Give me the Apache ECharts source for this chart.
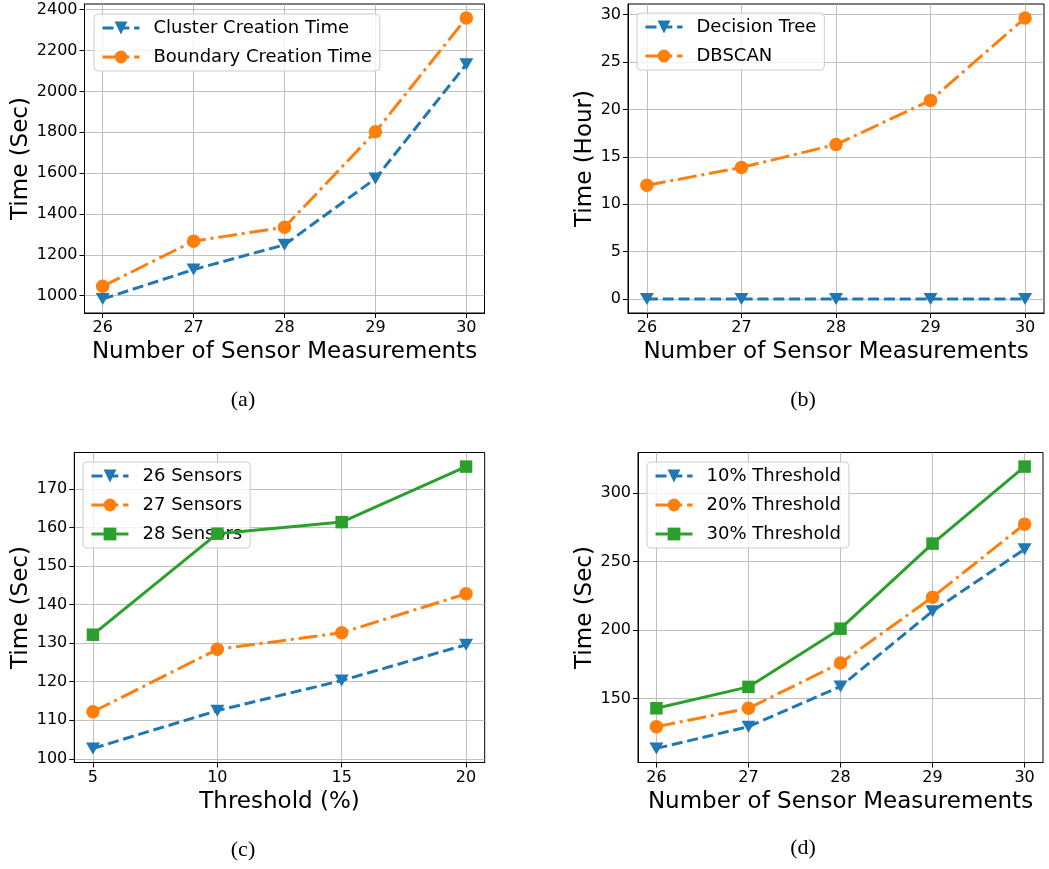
<!DOCTYPE html>
<html>
<head>
<meta charset="utf-8">
<script src="https://cdn.jsdelivr.net/npm/echarts@6/dist/echarts.min.js"></script>
<style>
html,body{margin:0;padding:0;background:#fff;}
#chart{width:1049px;height:869px;}
</style>
</head>
<body>
<div id="chart"></div>
<script>
// ---------- data ----------
const sensorCounts = [26, 27, 28, 29, 30];
const thresholdsPct = [5, 10, 15, 20];

// (a)
const clusterCreationTime = [984, 1128, 1249, 1573, 2133];
const boundaryCreationTime = [1046, 1267, 1335, 1802, 2359];
// (b)
const decisionTreeHours = [0, 0, 0, 0, 0];
const dbscanHours = [12.0, 13.88, 16.3, 20.96, 29.65];
// (c)
const sensors26 = [102.7, 112.5, 120.3, 129.6];
const sensors27 = [112.2, 128.4, 132.7, 142.8];
const sensors28 = [132.2, 158.4, 161.4, 175.8];
// (d)
const threshold10 = [113.6, 129.5, 158.8, 213.8, 259.0];
const threshold20 = [129.5, 142.9, 175.9, 224.0, 277.3];
const threshold30 = [142.9, 158.5, 201.0, 263.1, 319.3];

// tick labels
const xTicksSensors = [26, 27, 28, 29, 30];
const xTicksThreshold = [5, 10, 15, 20];
const yTicksA = [1000, 1200, 1400, 1600, 1800, 2000, 2200, 2400];
const yTicksB = [0, 5, 10, 15, 20, 25, 30];
const yTicksC = [100, 110, 120, 130, 140, 150, 160, 170];
const yTicksD = [150, 200, 250, 300];

// ---------- style ----------
const BLUE = '#1f77b4', ORANGE = '#ff7f0e', GREEN = '#2ca02c';
const FONT = 'DejaVu Sans';
const LW = 3;
const DASHED = [11, 4.8];
const DASHDOT = [19, 4.8, 3, 4.8];

function range(vals) {
  let lo = Math.min(...vals), hi = Math.max(...vals);
  const m = (hi - lo) * 0.05;
  return [lo - m, hi + m];
}

const grids = [
  {left: 84.5, top: 4, width: 400, height: 309},
  {left: 628, top: 4, width: 416, height: 309},
  {left: 74.3, top: 452.5, width: 410.4, height: 310},
  {left: 638, top: 452.5, width: 405, height: 310}
];
const yNameGaps = [46, 31, 41, 41];

const panels = [
  {x: sensorCounts, xticks: xTicksSensors, yticks: yTicksA, xname: 'Number of Sensor Measurements', yname: 'Time (Sec)',
   series: [
     {name: 'Cluster Creation Time', data: clusterCreationTime, color: BLUE, dash: DASHED, sym: 'tri'},
     {name: 'Boundary Creation Time', data: boundaryCreationTime, color: ORANGE, dash: DASHDOT, sym: 'circle'}
   ], legend: {left: 94, top: 14}},
  {x: sensorCounts, xticks: xTicksSensors, yticks: yTicksB, xname: 'Number of Sensor Measurements', yname: 'Time (Hour)',
   series: [
     {name: 'Decision Tree', data: decisionTreeHours, color: BLUE, dash: DASHED, sym: 'tri'},
     {name: 'DBSCAN', data: dbscanHours, color: ORANGE, dash: DASHDOT, sym: 'circle'}
   ], legend: {left: 637, top: 13}},
  {x: thresholdsPct, xticks: xTicksThreshold, yticks: yTicksC, xname: 'Threshold (%)', yname: 'Time (Sec)',
   series: [
     {name: '26 Sensors', data: sensors26, color: BLUE, dash: DASHED, sym: 'tri'},
     {name: '27 Sensors', data: sensors27, color: ORANGE, dash: DASHDOT, sym: 'circle'},
     {name: '28 Sensors', data: sensors28, color: GREEN, dash: 'solid', sym: 'rect'}
   ], legend: {left: 83, top: 462}},
  {x: sensorCounts, xticks: xTicksSensors, yticks: yTicksD, xname: 'Number of Sensor Measurements', yname: 'Time (Sec)',
   series: [
     {name: '10% Threshold', data: threshold10, color: BLUE, dash: DASHED, sym: 'tri'},
     {name: '20% Threshold', data: threshold20, color: ORANGE, dash: DASHDOT, sym: 'circle'},
     {name: '30% Threshold', data: threshold30, color: GREEN, dash: 'solid', sym: 'rect'}
   ], legend: {left: 647, top: 462}}
];

const option = {
  animation: false,
  backgroundColor: '#fff',
  grid: [], xAxis: [], yAxis: [], series: [], legend: [],
  graphic: []
};

const plain = v => String(Math.round(v * 1000) / 1000);

panels.forEach((p, i) => {
  option.grid.push(Object.assign({show: true, borderColor: '#000', borderWidth: 1, backgroundColor: 'transparent'}, grids[i]));
  const xr = range(p.x);
  const allY = [].concat(...p.series.map(s => s.data));
  const yr = range(allY);
  option.xAxis.push({
    type: 'value', gridIndex: i, min: xr[0], max: xr[1],
    name: p.xname, nameLocation: 'middle', nameGap: 28,
    nameTextStyle: {fontFamily: FONT, fontSize: 23, color: '#000'},
    axisLine: {show: true, onZero: false, lineStyle: {color: '#000', width: 1}},
    axisTick: {show: true, customValues: p.xticks, length: 5, lineStyle: {color: '#000', width: 1}},
    axisLabel: {customValues: p.xticks, formatter: plain, fontFamily: FONT, fontSize: 16, color: '#000', margin: 7},
    splitLine: {show: true, lineStyle: {color: '#b0b0b0', width: 0.8}}
  });
  option.yAxis.push({
    type: 'value', gridIndex: i, min: yr[0], max: yr[1],
    name: p.yname, nameLocation: 'middle', nameGap: yNameGaps[i], nameRotate: 90,
    nameTextStyle: {fontFamily: FONT, fontSize: 23, color: '#000'},
    axisLine: {show: true, onZero: false, lineStyle: {color: '#000', width: 1}},
    axisTick: {show: true, customValues: p.yticks, length: 5, lineStyle: {color: '#000', width: 1}},
    axisLabel: {customValues: p.yticks, formatter: plain, fontFamily: FONT, fontSize: 16, color: '#000', margin: 7},
    splitLine: {show: true, lineStyle: {color: '#b0b0b0', width: 0.8}}
  });
  const names = [];
  p.series.forEach((s, k) => {
    names.push(s.name);
    let symbol = 'circle', size = 13.5, rot = 0;
    if (s.sym === 'tri') { symbol = 'triangle'; size = [14, 12]; rot = 180; }
    if (s.sym === 'rect') { symbol = 'rect'; size = 12.5; }
    option.series.push({
      type: 'line', name: s.name, xAxisIndex: i, yAxisIndex: i,
      data: p.x.map((xv, j) => [xv, s.data[j]]),
      symbol: symbol, symbolSize: size, symbolRotate: rot, showSymbol: true,
      lineStyle: {color: s.color, width: LW, type: s.dash},
      itemStyle: {color: s.color},
      z: 3 + k, clip: false, silent: true
    });
  });
  option.legend.push({
    data: names, orient: 'vertical', left: p.legend.left, top: p.legend.top,
    padding: [5, 8, 5, 7], itemGap: 11, itemWidth: 37, itemHeight: 16,
    backgroundColor: 'rgba(255,255,255,0.8)', borderColor: '#cccccc', borderWidth: 1, borderRadius: 4,
    lineStyle: {width: LW},
    textStyle: {fontFamily: FONT, fontSize: 18, color: '#000', padding: [0, 0, 0, 9]},
    selectedMode: false
  });
});

const captions = [['(a)', 243, 400], ['(b)', 803, 400], ['(c)', 243, 850], ['(d)', 803, 848]];
captions.forEach(c => {
  option.graphic.push({type: 'text', x: c[1], y: c[2],
    style: {text: c[0], font: '22px "Liberation Serif", serif', fill: '#000', align: 'center', verticalAlign: 'middle'}});
});

const chart = echarts.init(document.getElementById('chart'), null, {renderer: 'canvas'});
chart.setOption(option);
</script>
</body>
</html>
